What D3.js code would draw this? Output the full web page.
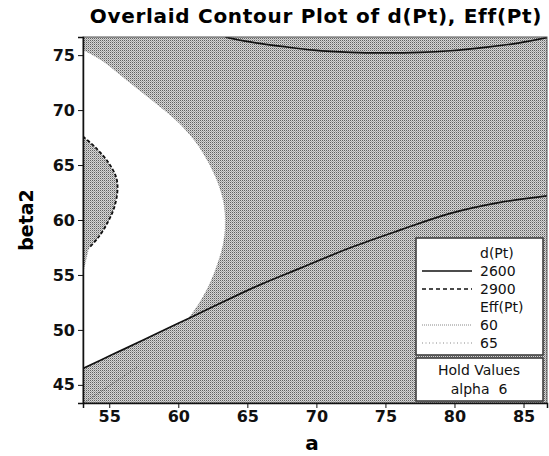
<!doctype html>
<html lang="en">
<head>
<meta charset="utf-8">
<title>Overlaid Contour Plot of d(Pt), Eff(Pt)</title>
<script src="https://cdnjs.cloudflare.com/ajax/libs/d3/7.8.5/d3.min.js"></script>
<style>
  html, body { margin: 0; padding: 0; background: #fff; }
  svg { display: block; font-family: "DejaVu Sans", Verdana, sans-serif; }
</style>
</head>
<body>
<svg id="chart" width="549" height="456"></svg>
<script>
// axis ticks
const aTicks = [55, 60, 65, 70, 75, 80, 85];
const betaTicks = [45, 50, 55, 60, 65, 70, 75];

// d(Pt) = 2600, upper branch (a, beta2)
const d2600Top = [[63.4, 76.65], [64.3, 76.4], [65.2, 76.2], [67.5, 75.8], [69.8, 75.45],
  [72.5, 75.25], [74.9, 75.2], [77.5, 75.25], [79.7, 75.4], [82.5, 75.75], [84.6, 76.1], [86.7, 76.6]];
// d(Pt) = 2600, lower branch
const d2600Low = [[53.1, 46.5], [55.3, 47.8], [57.5, 49.1], [60.0, 50.6], [62.5, 52.1],
  [65.9, 54.1], [68.8, 55.6], [72.5, 57.5], [76.1, 59.1], [79.7, 60.6], [83.3, 61.6], [86.7, 62.2]];
// d(Pt) = 2900 (dashed, left edge)
const d2900 = [[53.1, 67.6], [54.0, 66.6], [54.9, 65.3], [55.5, 63.9], [55.6, 62.8],
  [55.4, 61.3], [54.9, 59.8], [54.2, 58.4], [53.5, 57.4]];
// Eff(Pt) = 60, edge of the white region
const eff60 = [[53.1, 75.5], [54.5, 74.5], [56.3, 72.7], [58.2, 70.8], [59.9, 69.0], [61.2, 67.2],
  [62.2, 65.2], [62.9, 63.3], [63.3, 61.5], [63.4, 59.5], [63.25, 57.8], [62.95, 56.4],
  [62.55, 55.0], [62.05, 53.6], [61.45, 52.3], [60.7, 51.0]];
const eff60Left = [[53.5, 57.4], [53.1, 55.2]];
// Eff(Pt) = 65, faint, lower-left corner
const eff65 = [[53.2, 43.4], [55.0, 44.9], [57.0, 46.6]];

const legendItems = [
  {label: "d(Pt)", head: true},
  {label: "2600", dash: null, color: "#111", width: 1.4},
  {label: "2900", dash: "4,3", color: "#111", width: 1.4},
  {label: "Eff(Pt)", head: true},
  {label: "60", dash: "1,1", color: "#888", width: 1},
  {label: "65", dash: "1,2.5", color: "#888", width: 1}
];

const svg = d3.select("#chart");
const margin = {left: 83, right: 2, top: 37, bottom: 53};
const W = 549, H = 456;

const x = d3.scaleLinear().domain([53.1, 86.7]).range([margin.left, W - margin.right]);
const y = d3.scaleLinear().domain([43.35, 76.65]).range([H - margin.bottom, margin.top]);

// halftone-like grey fill
const defs = svg.append("defs");
const pat = defs.append("pattern").attr("id", "dither")
  .attr("width", 2).attr("height", 2).attr("patternUnits", "userSpaceOnUse");
pat.append("rect").attr("width", 2).attr("height", 2).attr("fill", "#d6d6d6");
pat.append("rect").attr("width", 1).attr("height", 1).attr("fill", "#606060");
pat.append("rect").attr("x", 1).attr("y", 1).attr("width", 1).attr("height", 1).attr("fill", "#a4a4a4");

defs.append("clipPath").attr("id", "clip").append("rect")
  .attr("x", x.range()[0]).attr("y", y.range()[1])
  .attr("width", x.range()[1] - x.range()[0]).attr("height", y.range()[0] - y.range()[1]);

const plot = svg.append("g").attr("clip-path", "url(#clip)");
plot.append("rect")
  .attr("x", x.range()[0]).attr("y", y.range()[1])
  .attr("width", x.range()[1] - x.range()[0]).attr("height", y.range()[0] - y.range()[1])
  .attr("fill", "url(#dither)");

const line = d3.line().x(d => x(d[0])).y(d => y(d[1])).curve(d3.curveCatmullRom);
const lin = d3.line().x(d => x(d[0])).y(d => y(d[1]));

// white (feasible) region: smooth Eff edge, then the closing parts
const aMeet = eff60[eff60.length - 1][0];
const lowBack = [eff60[eff60.length - 1]].concat(d2600Low.filter(d => d[0] < aMeet).reverse());
const regionPath = line(eff60)
  + lin(lowBack).replace(/^M/, "L")
  + lin([eff60Left[1], eff60Left[0]]).replace(/^M/, "L")
  + line(d2900.slice().reverse()).replace(/^M/, "L")
  + "Z";
plot.append("path").attr("d", regionPath).attr("fill", "#fff");

// Eff contours (faint dotted)
plot.append("path").attr("d", line(eff60)).attr("fill", "none")
  .attr("stroke", "#999").attr("stroke-width", 0.8).attr("stroke-dasharray", "1,1.5");
plot.append("path").attr("d", lin(eff60Left)).attr("fill", "none")
  .attr("stroke", "#999").attr("stroke-width", 0.8).attr("stroke-dasharray", "1,1.5");
plot.append("path").attr("d", lin(eff65)).attr("fill", "none")
  .attr("stroke", "#555").attr("stroke-width", 0.9).attr("stroke-dasharray", "1,1.5");

// d(Pt) contours
plot.append("path").attr("d", line(d2600Top)).attr("fill", "none")
  .attr("stroke", "#111").attr("stroke-width", 1.7);
plot.append("path").attr("d", line(d2600Low)).attr("fill", "none")
  .attr("stroke", "#111").attr("stroke-width", 1.7);
plot.append("path").attr("d", line(d2900)).attr("fill", "none")
  .attr("stroke", "#111").attr("stroke-width", 1.8).attr("stroke-dasharray", "3.5,2");

// frame
svg.append("rect")
  .attr("x", x.range()[0]).attr("y", y.range()[1])
  .attr("width", x.range()[1] - x.range()[0]).attr("height", y.range()[0] - y.range()[1])
  .attr("fill", "none").attr("stroke", "#555").attr("stroke-width", 1);

// axes
const xAxis = svg.append("g").attr("transform", `translate(0,${y.range()[0]})`)
  .call(d3.axisBottom(x).tickValues(aTicks).tickSize(5).tickPadding(3));
const yAxis = svg.append("g").attr("transform", `translate(${x.range()[0]},0)`)
  .call(d3.axisLeft(y).tickValues(betaTicks).tickSize(5).tickPadding(3));
[xAxis, yAxis].forEach(g => {
  g.select(".domain").attr("stroke", "#111").attr("stroke-width", 1.5);
  g.selectAll(".tick line").attr("stroke", "#111");
  g.selectAll(".tick text").attr("font-family", "DejaVu Sans").attr("font-size", 16)
    .attr("font-weight", "bold").attr("fill", "#111");
});

// titles
svg.append("text").attr("x", 316).attr("y", 23).attr("text-anchor", "middle")
  .attr("font-weight", "bold").attr("font-size", 20).attr("letter-spacing", 0.7)
  .text("Overlaid Contour Plot of d(Pt), Eff(Pt)");
svg.append("text").attr("x", 312).attr("y", 450).attr("text-anchor", "middle")
  .attr("font-weight", "bold").attr("font-size", 20).text("a");
svg.append("text").attr("transform", "translate(33,220) rotate(-90)").attr("text-anchor", "middle")
  .attr("font-weight", "bold").attr("font-size", 19).text("beta2");

// legend
const leg = svg.append("g");
leg.append("rect").attr("x", 416).attr("y", 238).attr("width", 127).attr("height", 117)
  .attr("fill", "#fff").attr("stroke", "#333").attr("stroke-width", 1.5);
leg.append("rect").attr("x", 416).attr("y", 358).attr("width", 127).attr("height", 43)
  .attr("fill", "#fff").attr("stroke", "#333").attr("stroke-width", 1.5);
legendItems.forEach((d, i) => {
  const yy = 258 + i * 18;
  leg.append("text").attr("x", 480).attr("y", yy).attr("font-size", 14).attr("fill", "#111")
    .text(d.label);
  if (!d.head) {
    leg.append("line").attr("x1", 422).attr("x2", 472).attr("y1", yy - 5).attr("y2", yy - 5)
      .attr("stroke", d.color).attr("stroke-width", d.width)
      .attr("stroke-dasharray", d.dash);
  }
});
leg.append("text").attr("x", 479).attr("y", 375).attr("text-anchor", "middle")
  .attr("font-size", 14).attr("fill", "#111").text("Hold Values");
leg.append("text").attr("x", 479).attr("y", 394).attr("text-anchor", "middle")
  .attr("font-size", 14).attr("fill", "#111").attr("xml:space", "preserve").text("alpha  6");
</script>
</body>
</html>
